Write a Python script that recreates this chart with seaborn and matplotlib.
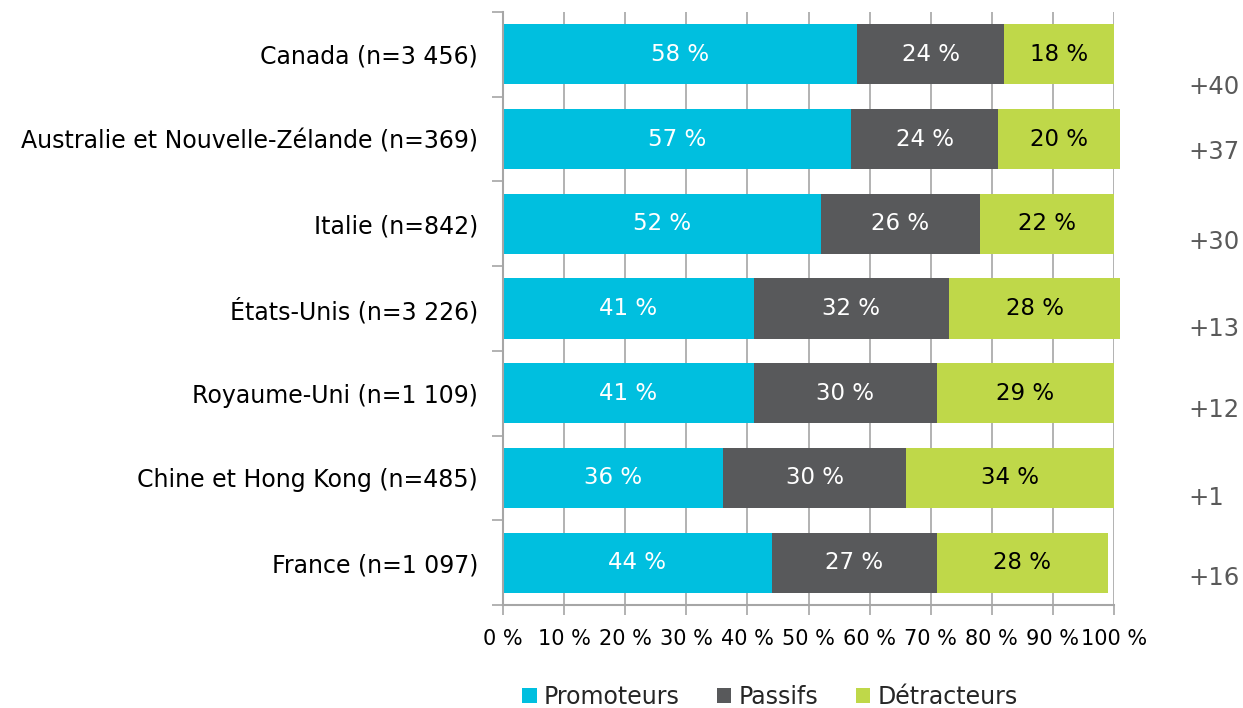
import matplotlib
matplotlib.use("Agg")
import matplotlib.pyplot as plt
import seaborn as sns
import pandas as pd
import numpy as np
from matplotlib.patches import Patch
from matplotlib.ticker import FixedLocator

categories = ["Canada (n=3 456)", "Australie et Nouvelle-Zélande (n=369)", "Italie (n=842)",
              "États-Unis (n=3 226)", "Royaume-Uni (n=1 109)", "Chine et Hong Kong (n=485)",
              "France (n=1 097)"]
promoteurs = [58, 57, 52, 41, 41, 36, 44]
passifs = [24, 24, 26, 32, 30, 30, 27]
detracteurs = [18, 20, 22, 28, 29, 34, 28]
nps = ["+40", "+37", "+30", "+13", "+12", "+1", "+16"]
series_names = ["Promoteurs", "Passifs", "Détracteurs"]

# layout-only offsets for the NPS labels (in category units)
nps_offsets = [0.38, 0.15, 0.21, 0.24, 0.20, 0.24, 0.18]

colors = ["#00BFDF", "#58595B", "#BFD849"]
text_colors = ["white", "white", "black"]

sns.set_theme(style="white")
plt.rcParams['font.family'] = ['DejaVu Sans']

df = pd.DataFrame({"cat": categories,
                   "Promoteurs": np.array(promoteurs) / 100,
                   "Passifs": np.array(passifs) / 100,
                   "Détracteurs": np.array(detracteurs) / 100})
df["c1"] = df["Promoteurs"]
df["c2"] = df["c1"] + df["Passifs"]
df["c3"] = df["c2"] + df["Détracteurs"]

fig = plt.figure(figsize=(12.43, 7.08), dpi=100)
ax = fig.add_axes([503/1243, 1 - 605/708, (1114-503)/1243, (605-12)/708])

grid_col = "#A6A6A6"
for x in np.arange(0.1, 1.01, 0.1):
    ax.axvline(x, color=grid_col, lw=1.2, zorder=0)

for col, c in zip(["c3", "c2", "c1"], colors[::-1]):
    sns.barplot(data=df, x=col, y="cat", color=c, saturation=1, width=0.71,
                orient="y", ax=ax, zorder=2, linewidth=0)
for p in ax.patches:
    p.set_clip_on(False)

# labels in segments
starts = [np.zeros(len(categories)), df["c1"].values, df["c2"].values]
vals = [promoteurs, passifs, detracteurs]
for s, v, tc in zip(starts, vals, text_colors):
    for i, (st, vv) in enumerate(zip(s, v)):
        ax.text(st + vv / 200, i, f"{vv} %", ha="center", va="center",
                color=tc, fontsize=16.5, zorder=3)

# NPS labels on right
for i, (lab, off) in enumerate(zip(nps, nps_offsets)):
    ax.text(1.0 + 74/611, i + off, lab, ha="left", va="center", color="#595959",
            fontsize=17.5, clip_on=False)

ax.set_xlim(0, 1)
ax.set_ylim(6.5, -0.5)
ax.set_xlabel("")
ax.set_ylabel("")
ticks = np.arange(0, 1.01, 0.1)
ax.xaxis.set_major_locator(FixedLocator(ticks))
ax.set_xticklabels([f"{int(round(t*100))} %" for t in ticks])
ax.tick_params(axis="x", which="major", length=7, width=1.2, color=grid_col,
               labelsize=15, labelcolor="black", pad=10, bottom=True, direction="out")
ax.set_yticks(range(len(categories)))
ax.set_yticklabels(categories)
ax.tick_params(axis="y", which="major", length=0, labelsize=17, labelcolor="black", pad=18)
ax.set_yticks(np.arange(-0.5, len(categories), 1.0), minor=True)
ax.tick_params(axis="y", which="minor", length=8, width=1.2, color=grid_col, left=True)

for side in ["top", "right"]:
    ax.spines[side].set_visible(False)
for side in ["left", "bottom"]:
    ax.spines[side].set_color(grid_col)
    ax.spines[side].set_linewidth(1.5)
ax.spines["bottom"].set_zorder(4)

handles = [Patch(facecolor=c, edgecolor="none") for c in colors]
fig.legend(handles, series_names, loc="center", bbox_to_anchor=(770/1243, 1 - 697/708),
           ncol=3, frameon=False, fontsize=17, handlelength=0.6, handleheight=0.6,
           handletextpad=0.3, columnspacing=1.6, borderaxespad=0, borderpad=0)

fig.savefig("out.png", dpi=100)
